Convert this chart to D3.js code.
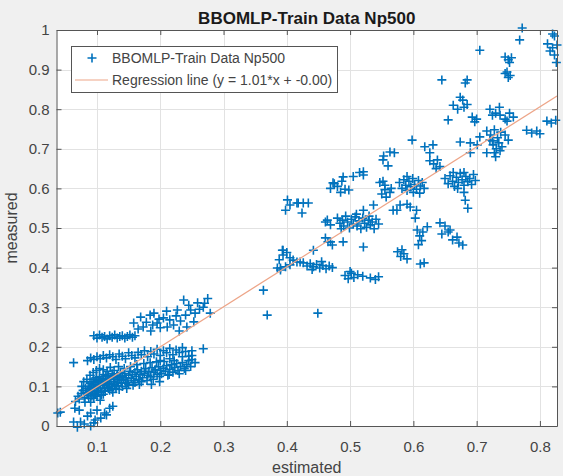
<!DOCTYPE html>
<html>
<head>
<meta charset="utf-8">
<script src="https://cdn.jsdelivr.net/npm/d3@7"></script>
<style>
  html, body { margin: 0; padding: 0; background: #f0f0f0; }
  svg { display: block; }
  text { font-family: "Liberation Sans", Arial, Helvetica, sans-serif; }
</style>
</head>
<body>
<svg id="chart" width="563" height="476"></svg>
<script>
// Training samples: [estimated, measured]
const denseLow = [
  [0.066,0.062],[0.070,0.075],[0.072,0.068],[0.075,0.082],[0.078,0.090],[0.080,0.072],[0.082,0.095],[0.083,0.085],
  [0.085,0.078],[0.086,0.100],[0.088,0.092],[0.089,0.108],[0.090,0.083],[0.091,0.097],[0.092,0.112],[0.093,0.088],
  [0.094,0.104],[0.095,0.118],[0.096,0.094],[0.097,0.110],[0.098,0.080],[0.099,0.122],[0.100,0.101],[0.101,0.090],
  [0.102,0.115],[0.103,0.106],[0.104,0.125],[0.105,0.096],[0.106,0.112],[0.107,0.086],[0.108,0.120],[0.109,0.103],
  [0.110,0.130],[0.111,0.109],[0.112,0.095],[0.113,0.117],[0.114,0.125],[0.115,0.105],[0.116,0.112],[0.117,0.098],
  [0.118,0.128],[0.119,0.118],[0.120,0.108],[0.122,0.122],[0.123,0.100],[0.124,0.132],[0.126,0.112],[0.127,0.125],
  [0.128,0.105],[0.130,0.118],[0.132,0.128],[0.133,0.110],[0.135,0.122],[0.137,0.135],[0.138,0.115],[0.140,0.126],
  [0.142,0.118],[0.144,0.132],[0.146,0.122],[0.148,0.110],[0.150,0.128],[0.152,0.138],[0.154,0.120],[0.156,0.130],
  [0.158,0.115],[0.160,0.135],[0.162,0.125],[0.164,0.142],[0.166,0.118],[0.168,0.130],[0.170,0.138],[0.172,0.122],
  [0.175,0.133],[0.177,0.145],[0.180,0.128],[0.182,0.138],[0.185,0.124],[0.187,0.147],[0.190,0.135],[0.192,0.142],
  [0.195,0.130],[0.197,0.150],[0.200,0.140],[0.202,0.132],[0.205,0.146],[0.208,0.138],[0.210,0.152],[0.212,0.128],
  [0.215,0.143],[0.218,0.155],[0.220,0.136],[0.223,0.148],[0.226,0.158],[0.228,0.140],[0.232,0.150],[0.235,0.160],
  [0.238,0.145],[0.242,0.155],[0.245,0.165],[0.248,0.150],
  [0.090,0.060],[0.095,0.070],[0.100,0.075],[0.110,0.080],[0.120,0.090],[0.130,0.095],[0.140,0.100],[0.150,0.105],
  [0.160,0.110],[0.125,0.085],[0.105,0.065],[0.145,0.108],[0.170,0.112],[0.135,0.092],
  [0.076,0.100],[0.079,0.112],[0.081,0.060],[0.084,0.118],[0.087,0.070],[0.089,0.128],[0.092,0.076],[0.094,0.135],
  [0.096,0.082],[0.099,0.140],[0.102,0.085],[0.104,0.145],[0.107,0.078],[0.110,0.142],[0.113,0.088],[0.116,0.138],
  [0.118,0.095],[0.121,0.148],[0.124,0.092],[0.127,0.140],[0.131,0.102],[0.134,0.150],[0.139,0.108],[0.143,0.145],
  [0.147,0.095],[0.153,0.150],[0.157,0.103],[0.163,0.155],[0.167,0.105],[0.174,0.158],[0.179,0.115],[0.184,0.160],
  [0.189,0.118],[0.194,0.162],[0.199,0.125],[0.206,0.163],[0.214,0.130],[0.222,0.165],[0.230,0.132],[0.240,0.140],
  [0.250,0.178],[0.255,0.160],[0.186,0.105],[0.199,0.112]
];
const bandMid = [
  [0.063,0.160],[0.085,0.165],[0.090,0.172],[0.095,0.168],[0.100,0.175],[0.105,0.170],[0.110,0.178],[0.115,0.172],
  [0.120,0.180],[0.125,0.175],[0.130,0.168],[0.135,0.182],[0.140,0.176],[0.145,0.170],[0.150,0.185],[0.155,0.178],
  [0.160,0.172],[0.165,0.186],[0.170,0.180],[0.175,0.190],[0.180,0.175],[0.185,0.188],[0.190,0.182],[0.195,0.194],
  [0.200,0.178],[0.205,0.190],[0.210,0.185],[0.215,0.196],[0.220,0.180],[0.225,0.192],[0.230,0.186],[0.235,0.198],
  [0.240,0.188],[0.245,0.176],[0.250,0.190],[0.268,0.195],[0.200,0.165],[0.215,0.170],[0.235,0.175],[0.250,0.168]
];
const bandHigh = [
  [0.095,0.228],[0.100,0.222],[0.104,0.230],[0.108,0.224],[0.112,0.226],[0.116,0.220],[0.120,0.228],[0.124,0.224],
  [0.128,0.230],[0.132,0.222],[0.136,0.226],[0.140,0.228],[0.144,0.222],[0.148,0.226],[0.152,0.230],[0.156,0.224],
  [0.160,0.228],
  [0.169,0.275],[0.184,0.280],[0.205,0.273],[0.227,0.293],[0.237,0.318],[0.248,0.293],[0.259,0.311],[0.268,0.300],
  [0.279,0.285],[0.240,0.280],[0.253,0.263],[0.211,0.250],[0.221,0.255],[0.158,0.260],[0.173,0.250],[0.195,0.260],
  [0.165,0.245],[0.178,0.262],[0.188,0.255],[0.198,0.270],[0.215,0.268],[0.225,0.278],[0.232,0.265],[0.245,0.305],
  [0.255,0.285],[0.262,0.295],[0.270,0.310],[0.275,0.322],[0.185,0.240],[0.200,0.248],[0.230,0.240],[0.242,0.250],
  [0.190,0.285],[0.210,0.290]
];
const nearZero = [
  [0.038,0.033],[0.042,0.035],[0.063,0.010],[0.069,-0.003],[0.080,0.005],[0.090,0.033],[0.097,0.015],[0.112,0.033],
  [0.115,0.028],[0.106,0.020],[0.074,0.010],[0.085,0.025],[0.100,0.040],[0.120,0.045],[0.125,0.050],[0.065,0.045],
  [0.072,0.040],[0.090,0.000],[0.095,0.008]
];
const midRange = [
  [0.363,0.343],[0.369,0.280],[0.390,0.394],[0.394,0.444],[0.390,0.399],[0.405,0.407],[0.416,0.414],
  [0.393,0.444],[0.394,0.432],[0.385,0.399],[0.398,0.402],[0.410,0.419],[0.421,0.414],[0.400,0.438],[0.405,0.425],
  [0.388,0.420],
  [0.426,0.412],[0.432,0.404],[0.437,0.410],[0.442,0.402],[0.447,0.408],[0.452,0.399],[0.457,0.405],[0.462,0.397],
  [0.467,0.404],[0.472,0.400],[0.440,0.395],[0.455,0.415],
  [0.492,0.380],[0.497,0.372],[0.502,0.386],[0.506,0.375],[0.512,0.382],[0.520,0.378],[0.532,0.374],[0.540,0.370],
  [0.545,0.377],[0.500,0.390],[0.449,0.285],
  [0.442,0.444],[0.465,0.465],[0.472,0.457],[0.489,0.465],[0.521,0.452],[0.464,0.520],[0.461,0.475],[0.469,0.465],
  [0.401,0.571],[0.405,0.558],[0.416,0.563],[0.426,0.563],[0.434,0.563],[0.398,0.545],[0.424,0.538],[0.418,0.563],
  [0.461,0.515],[0.469,0.508],[0.480,0.525],[0.484,0.512],[0.488,0.520],[0.490,0.505],[0.493,0.530],[0.496,0.515],
  [0.499,0.500],[0.502,0.522],[0.505,0.510],[0.508,0.528],[0.511,0.505],[0.514,0.518],[0.517,0.498],[0.520,0.525],
  [0.523,0.512],[0.526,0.502],[0.529,0.520],[0.532,0.508],[0.535,0.515],[0.538,0.498],[0.541,0.522],[0.545,0.510],
  [0.486,0.498],[0.510,0.535],[0.530,0.530],[0.537,0.558],[0.574,0.545],[0.521,0.545]
];
const upperMid = [
  [0.469,0.600],[0.475,0.612],[0.480,0.605],[0.487,0.618],[0.492,0.598],[0.485,0.590],[0.505,0.630],[0.515,0.640],
  [0.521,0.642],[0.498,0.596],[0.473,0.614],[0.489,0.629],[0.521,0.634],
  [0.553,0.682],[0.563,0.692],[0.570,0.690],[0.560,0.657],[0.552,0.672],
  [0.552,0.618],[0.555,0.597],[0.550,0.586],[0.563,0.590],[0.557,0.578],[0.547,0.615],[0.555,0.608],[0.565,0.600],
  [0.578,0.615],[0.582,0.600],[0.585,0.622],[0.588,0.608],[0.590,0.595],[0.593,0.618],[0.596,0.604],[0.599,0.625],
  [0.602,0.610],[0.605,0.598],[0.608,0.620],[0.611,0.606],[0.614,0.615],[0.600,0.590],[0.590,0.630],[0.610,0.588],
  [0.617,0.600],[0.605,0.545],[0.590,0.560],
  [0.626,0.670],[0.632,0.662],[0.638,0.672],[0.642,0.655],[0.636,0.650],[0.598,0.722],[0.618,0.705],[0.631,0.710],
  [0.626,0.690],
  [0.650,0.625],[0.655,0.612],[0.658,0.632],[0.662,0.618],[0.665,0.605],[0.668,0.628],[0.671,0.615],[0.674,0.638],
  [0.677,0.622],[0.680,0.608],[0.683,0.630],[0.686,0.617],[0.689,0.625],[0.692,0.610],[0.695,0.635],[0.698,0.620],
  [0.663,0.640],[0.680,0.640],[0.670,0.600],[0.680,0.590],[0.682,0.570],[0.686,0.550],
  [0.568,0.545],[0.579,0.558],[0.595,0.553],[0.603,0.525]
];
const lowerRight = [
  [0.622,0.503],[0.642,0.513],[0.658,0.495],[0.669,0.477],[0.678,0.457],[0.650,0.505],[0.655,0.490],[0.645,0.485],
  [0.662,0.470],[0.672,0.462],[0.606,0.495],[0.610,0.480],[0.613,0.468],[0.608,0.458],[0.615,0.490],
  [0.575,0.440],[0.580,0.428],[0.585,0.435],[0.590,0.422],[0.582,0.445],[0.611,0.409],[0.617,0.412]
];
const topRight = [
  [0.674,0.717],[0.690,0.715],[0.705,0.730],[0.701,0.710],[0.721,0.722],[0.726,0.710],[0.731,0.700],[0.735,0.715],
  [0.728,0.690],[0.740,0.705],[0.716,0.745],[0.722,0.735],[0.728,0.748],[0.733,0.728],[0.738,0.742],[0.745,0.735],
  [0.750,0.722],[0.725,0.720],[0.779,0.747],[0.787,0.740],[0.795,0.745],[0.800,0.738],[0.811,0.770],[0.818,0.765],
  [0.825,0.772],[0.716,0.690],[0.730,0.680],[0.737,0.695],[0.690,0.690],
  [0.655,0.773],[0.693,0.780],[0.700,0.775],[0.697,0.768],[0.721,0.800],[0.730,0.790],[0.736,0.805],[0.725,0.785],
  [0.737,0.785],[0.745,0.775],[0.752,0.790],[0.748,0.770],[0.758,0.780],
  [0.674,0.830],[0.678,0.823],[0.663,0.810],[0.670,0.800],[0.680,0.805],[0.685,0.812],
  [0.685,0.874],[0.682,0.866],[0.645,0.874],[0.705,0.949],
  [0.745,0.932],[0.750,0.925],[0.755,0.930],[0.752,0.918],[0.748,0.894],[0.753,0.885],[0.750,0.880],[0.745,0.890],
  [0.772,1.005],[0.768,0.975],
  [0.820,0.990],[0.823,0.985],[0.827,0.962],[0.820,0.955],[0.823,0.937],[0.826,0.918],[0.816,0.947],[0.812,0.965]
];

const samples = [].concat(denseLow, bandMid, bandHigh, nearZero, midRange, upperMid, lowerRight, topRight);

// Least-squares fit reported in the legend
const fitSlope = 1.01;
const fitIntercept = -0.002;

const xTicks = [0.1, 0.2, 0.3, 0.4, 0.5, 0.6, 0.7, 0.8];
const yTicks = [0, 0.1, 0.2, 0.3, 0.4, 0.5, 0.6, 0.7, 0.8, 0.9, 1];
const xLimits = [0.036, 0.827];
const yLimits = [0, 1];

const chartTitle = "BBOMLP-Train Data Np500";
const xLabel = "estimated";
const yLabel = "measured";
const seriesName = "BBOMLP-Train Data Np500";
const fitName = `Regression line (y = ${fitSlope.toFixed(2)}*x + ${fitIntercept.toFixed(2)})`;

// ---- layout ----
const svg = d3.select("#chart");
const plot = { left: 56.5, right: 557, top: 30, bottom: 426 };
const blue = "#0072BD";
const fitColor = "#eda588";
const axisColor = "#555555";
const textColor = "#444444";

const x = d3.scaleLinear().domain(xLimits).range([plot.left, plot.right]);
const y = d3.scaleLinear().domain(yLimits).range([plot.bottom, plot.top]);

// plot background
svg.append("rect")
  .attr("x", plot.left).attr("y", plot.top)
  .attr("width", plot.right - plot.left).attr("height", plot.bottom - plot.top)
  .attr("fill", "#ffffff");

// grid
const grid = svg.append("g").attr("stroke", "#e2e2e2").attr("stroke-width", 1);
grid.selectAll("line.gx").data(xTicks).join("line")
  .attr("x1", d => Math.round(x(d)) + 0.5).attr("x2", d => Math.round(x(d)) + 0.5)
  .attr("y1", plot.top).attr("y2", plot.bottom);
grid.selectAll("line.gy").data(yTicks).join("line")
  .attr("y1", d => Math.round(y(d)) + 0.5).attr("y2", d => Math.round(y(d)) + 0.5)
  .attr("x1", plot.left).attr("x2", plot.right);

// clip for the fit line
svg.append("clipPath").attr("id", "plotClip")
  .append("rect")
  .attr("x", plot.left).attr("y", plot.top)
  .attr("width", plot.right - plot.left).attr("height", plot.bottom - plot.top);

// markers
const plus = "M-4.5,0H4.5M0,-4.5V4.5";
svg.append("g")
  .attr("fill", "none").attr("stroke", blue).attr("stroke-width", 1.6)
  .selectAll("path").data(samples).join("path")
  .attr("transform", d => `translate(${x(d[0])},${y(d[1])})`)
  .attr("d", plus);

// regression line
svg.append("line")
  .attr("clip-path", "url(#plotClip)")
  .attr("x1", x(xLimits[0])).attr("y1", y(fitSlope * xLimits[0] + fitIntercept))
  .attr("x2", x(xLimits[1])).attr("y2", y(fitSlope * xLimits[1] + fitIntercept))
  .attr("stroke", fitColor).attr("stroke-width", 1.2);

// axes (ticks inward on all four sides)
const tickLen = 5;
function styleAxis(g) {
  g.selectAll("path.domain").attr("stroke", axisColor);
  g.selectAll(".tick line").attr("stroke", axisColor);
  g.selectAll(".tick text").attr("fill", textColor)
    .style("font-family", '"Liberation Sans", Arial, sans-serif').style("font-size", "15px");
}
svg.append("g").attr("transform", `translate(0,${plot.bottom})`)
  .call(d3.axisBottom(x).tickValues(xTicks).tickFormat(d => String(d))
    .tickSizeInner(-tickLen).tickSizeOuter(0).tickPadding(15))
  .call(styleAxis);
svg.append("g").attr("transform", `translate(0,${plot.top})`)
  .call(d3.axisTop(x).tickValues(xTicks).tickFormat("")
    .tickSizeInner(-tickLen).tickSizeOuter(0))
  .call(styleAxis);
svg.append("g").attr("transform", `translate(${plot.left},0)`)
  .call(d3.axisLeft(y).tickValues(yTicks).tickFormat(d => String(d))
    .tickSizeInner(-tickLen).tickSizeOuter(0).tickPadding(7))
  .call(styleAxis);
svg.append("g").attr("transform", `translate(${plot.right},0)`)
  .call(d3.axisRight(y).tickValues(yTicks).tickFormat("")
    .tickSizeInner(-tickLen).tickSizeOuter(0))
  .call(styleAxis);
svg.selectAll(".domain").attr("fill", "none");

// title and axis labels
const midX = (plot.left + plot.right) / 2;
svg.append("text").attr("x", midX).attr("y", 24)
  .attr("text-anchor", "middle").attr("font-weight", "bold").attr("font-size", 17)
  .attr("fill", "#1a1a1a").text(chartTitle);
svg.append("text").attr("x", midX).attr("y", 473)
  .attr("text-anchor", "middle").attr("font-size", 16)
  .attr("fill", textColor).text(xLabel);
svg.append("text")
  .attr("transform", `translate(17,${(plot.top + plot.bottom) / 2}) rotate(-90)`)
  .attr("text-anchor", "middle").attr("font-size", 16)
  .attr("fill", textColor).text(yLabel);

// legend
const legend = svg.append("g").attr("transform", "translate(71,46)");
legend.append("rect").attr("x", 0.5).attr("y", 0.5).attr("width", 266).attr("height", 46)
  .attr("fill", "#ffffff").attr("stroke", "#555555").attr("stroke-width", 1);
legend.append("path").attr("transform", "translate(21,12)").attr("d", plus)
  .attr("fill", "none").attr("stroke", blue).attr("stroke-width", 1.6);
legend.append("line").attr("x1", 4).attr("x2", 37).attr("y1", 34).attr("y2", 34)
  .attr("stroke", fitColor).attr("stroke-width", 1.2);
legend.append("text").attr("x", 41).attr("y", 17).attr("font-size", 14)
  .attr("fill", textColor).text(seriesName);
legend.append("text").attr("x", 41).attr("y", 39).attr("font-size", 14)
  .attr("fill", textColor).text(fitName);
</script>
</body>
</html>
